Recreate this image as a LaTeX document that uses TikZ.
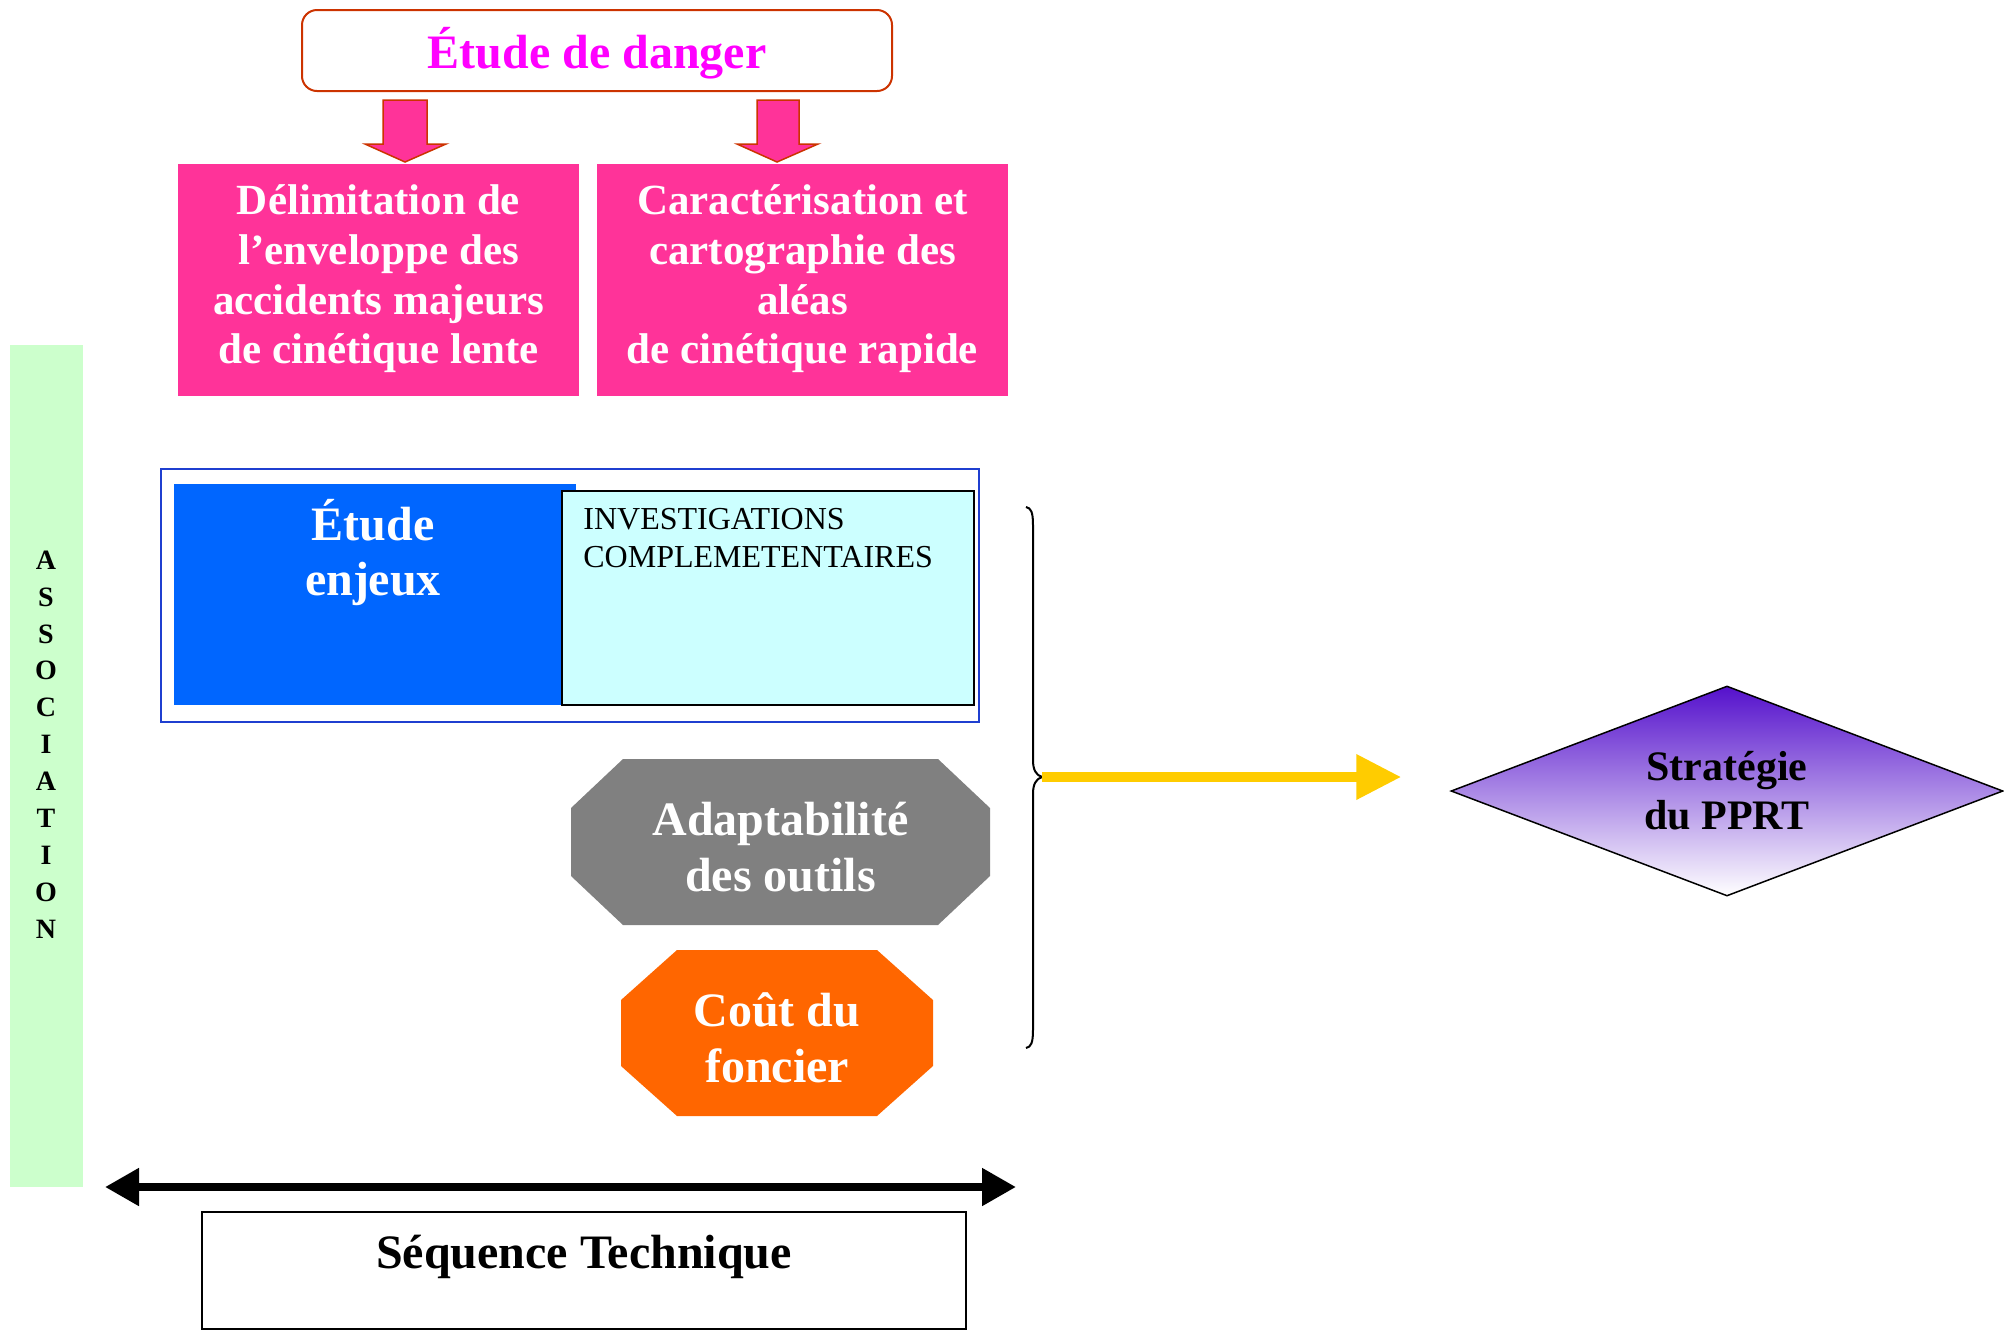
\documentclass[tikz,border=0pt]{standalone}
\usepackage{fontspec}
\setmainfont{Liberation Serif}
\usetikzlibrary{shapes.geometric,arrows.meta}
\definecolor{dangerline}{HTML}{CC3300}
\definecolor{dangertext}{HTML}{FF00FF}
\definecolor{pinkfill}{HTML}{FF3399}
\definecolor{enjeuxblue}{HTML}{0066FF}
\definecolor{frameblue}{HTML}{1F3FD0}
\definecolor{cyanfill}{HTML}{CCFFFF}
\definecolor{toolgray}{HTML}{808080}
\definecolor{costorange}{HTML}{FF6600}
\definecolor{assocgreen}{HTML}{CCFFCC}
\definecolor{yellowarrow}{HTML}{FFCC00}
\definecolor{strategypurple}{HTML}{5511CC}
\tikzset{seqtip/.tip={Triangle[length=17pt,width=18pt]}}
\begin{document}
\begin{tikzpicture}[x=0.5pt,y=-0.5pt,
  pinkbox/.style={fill=pinkfill, text=white, inner sep=0, align=center,
    minimum height=116pt, font=\bfseries\fontsize{21.5}{24.8}\selectfont},
  blockarrow/.style={fill=pinkfill, draw=dangerline, line width=0.75pt, line join=miter},
  bigwhite/.style={text=white, inner sep=0, align=center,
    font=\bfseries\fontsize{24}{28}\selectfont},
  plainbox/.style={inner sep=0, draw=black, line width=1pt}]
\useasboundingbox (0,0) rectangle (2004,1330);

% title box
\node[rounded corners=7.5pt, draw=dangerline, line width=1pt, inner sep=0,
  minimum width=295pt, minimum height=40.5pt] (danger) at (597,50.5) {};
\node[inner sep=0, text=dangertext, font=\bfseries\fontsize{24}{28}\selectfont]
  (dangertxt) at (597,53) {Étude de danger};

% block arrows below the title
\draw[blockarrow] (383,100) -- (427,100) -- (427,144) -- (446,144) -- (405,162)
  -- (365,144) -- (383,144) -- cycle;
\draw[blockarrow] (757,100) -- (799,100) -- (799,144) -- (818,144) -- (777,162)
  -- (737,144) -- (757,144) -- cycle;

% hazard boxes
\node[pinkbox, minimum width=200.5pt] (lente) at (378.5,280) {};
\node[pinkbox, minimum width=205.5pt] (rapide) at (802.5,280) {};
\node[pinkbox, minimum height=0pt] (lentetxt) at (378.5,279)
  {Délimitation de\\l’enveloppe des\\accidents majeurs\\de cinétique lente};
\node[pinkbox, minimum height=0pt] (rapidetxt) at (802.5,279)
  {Caractérisation et\\cartographie des\\aléas\\de cinétique rapide};

% stakes study frame
\node[draw=frameblue, line width=0.75pt, inner sep=0,
  minimum width=409pt, minimum height=126.5pt] (frame) at (570,595.5) {};
\node[fill=enjeuxblue, inner sep=0, minimum width=201pt, minimum height=110.5pt]
  (enjeux) at (375,594.5) {};
\node[bigwhite, font=\bfseries\fontsize{24}{27.5}\selectfont] (enjeuxtxt) at (373,553) {Étude\\enjeux};
\node[plainbox, fill=cyanfill, minimum width=206pt, minimum height=107pt]
  (invest) at (768,598) {};
\node[anchor=north west, align=left, inner sep=0, font=\fontsize{16}{19}\selectfont]
  (investtxt) at (583,508) {INVESTIGATIONS\\COMPLEMETENTAIRES};

% octagons
\fill[toolgray] (623,759) -- (938,759) -- (990,808) -- (990,876) -- (938,925)
  -- (623,925) -- (571,876) -- (571,808) -- cycle;
\node[bigwhite] (outils) at (780.5,847) {Adaptabilité\\des outils};
\fill[costorange] (677,950) -- (877,950) -- (933,1000) -- (933,1066) -- (877,1116)
  -- (677,1116) -- (621,1066) -- (621,1000) -- cycle;
\node[bigwhite] (cout) at (777,1037.5) {Coût du\\foncier};

% brace gathering the studies
\coordinate (bracetip) at (1042,777);
\draw[line width=1pt] (1026,507) .. controls (1031,508) and (1033,512) .. (1033,525)
  -- (1033,760) .. controls (1033,770) and (1036,775) .. (bracetip)
  .. controls (1036,779) and (1033,784) .. (1033,794)
  -- (1033,1030) .. controls (1033,1043) and (1031,1047) .. (1026,1048);

% strategy diamond
\node[diamond, aspect=2.67, draw=black, line width=0.75pt, inner sep=0,
  minimum width=276pt, minimum height=105pt,
  top color=strategypurple, bottom color=white, align=center,
  font=\bfseries\fontsize{21}{24.5}\selectfont] (strategy) at (1727,791) {Stratégie\\du PPRT};
\draw[yellowarrow, line width=5pt, -{Triangle[length=22.5pt,width=21.5pt]}]
  (bracetip) -- ([xshift=-24.5pt]strategy.west |- bracetip);

% association bar
\node[fill=assocgreen, inner sep=0, minimum width=36.5pt, minimum height=421pt]
  (assoc) at (46.5,766) {};
\node[inner sep=0, align=center, font=\bfseries\fontsize{14}{18.45}\selectfont]
  (assoctxt) at (46,744.5) {A\\S\\S\\O\\C\\I\\A\\T\\I\\O\\N};

% technical sequence
\coordinate (seqleft) at (105,1187);
\coordinate (seqright) at (1016,1187);
\draw[line width=4pt, seqtip-seqtip] (seqleft) -- (seqright);
\node[plainbox, minimum width=382pt, minimum height=58.5pt] (seq) at (584,1270) {};
\node[inner sep=0, font=\bfseries\fontsize{24}{28}\selectfont] (seqtxt) at (584,1257) {Séquence Technique};
\end{tikzpicture}
\end{document}
